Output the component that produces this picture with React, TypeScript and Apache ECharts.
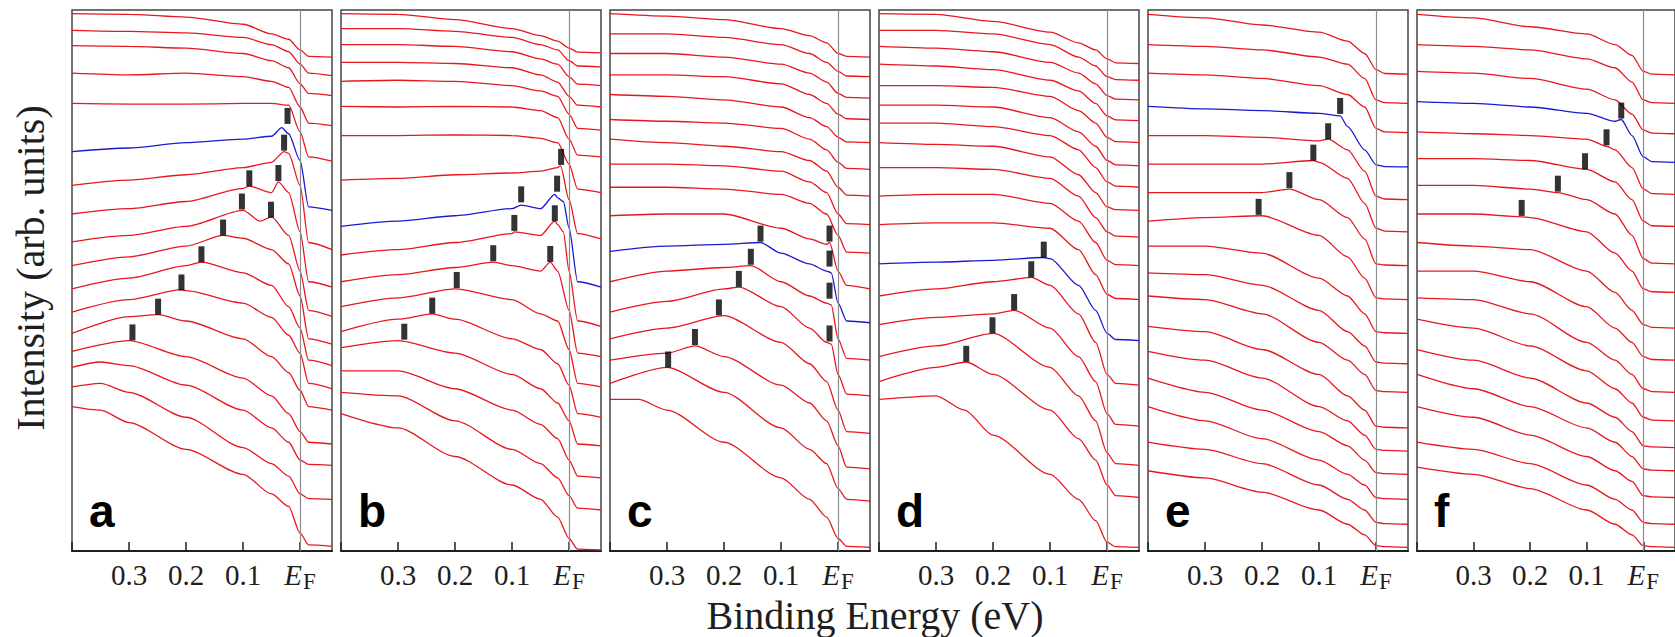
import React, { useEffect, useRef } from 'react';
import * as echarts from 'echarts';

const ENERGY_GRID = [0.4, 0.3, 0.2, 0.1, 0.05, 0.02, 0, -0.015, -0.056];
const TICK_VALUES = [0.4, 0.3, 0.2, 0.1, 0];
const TICK_LABELS = [0.3, 0.2, 0.1, 0];
const PANEL_LETTERS = ['a', 'b', 'c', 'd', 'e', 'f'];
const BLUE_INDEX = [5, 8, 10, 11, 3, 3];

// Intensities (arb. units) of each EDC, top curve first, at ENERGY_GRID
const PANEL_A = [
  [1507, 1505, 1497, 1477, 1450, 1435, 1405, 1387, 1385],
  [1460, 1457, 1453, 1440, 1420, 1400, 1365, 1340, 1333],
  [1417, 1415, 1410, 1395, 1375, 1355, 1310, 1283, 1277],
  [1340, 1335, 1340, 1330, 1317, 1300, 1245, 1200, 1193],
  [1255, 1253, 1253, 1255, 1255, 1250, 1175, 1105, 1093],
  [1120, 1130, 1145, 1155, 1163, 1170, 1095, 965, 955],
  [1025, 1040, 1055, 1075, 1090, 1115, 1025, 865, 845],
  [945, 960, 980, 1017, 1005, 1005, 895, 755, 740],
  [867, 885, 910, 955, 937, 885, 785, 675, 658],
  [800, 825, 855, 877, 845, 805, 715, 595, 580],
  [735, 765, 800, 780, 745, 685, 625, 535, 520],
  [670, 705, 730, 695, 655, 605, 555, 470, 455],
  [610, 657, 645, 595, 545, 500, 450, 405, 395],
  [560, 590, 545, 485, 435, 385, 335, 305, 300],
  [515, 520, 465, 395, 345, 305, 255, 243, 240],
  [460, 445, 375, 290, 245, 210, 160, 147, 145],
  [405, 360, 285, 215, 160, 125, 50, 17, 13],
];
// extra read points: [curve index, energy, intensity]
const PANEL_A_EXTRA = [
  [5, 0.032, 1187], [6, 0.028, 1120], [7, 0.089, 1023], [7, 0.038, 1035],
  [8, 0.07, 925], [9, 0.135, 885], [10, 0.173, 810], [11, 0.208, 733],
  [12, 0.249, 663], [14, 0.35, 530], [15, 0.35, 470], [16, 0.35, 395],
];
const PANEL_A_MARKS = [
  [0.022, 1220], [0.028, 1145], [0.038, 1060], [0.051, 957], [0.089, 1045], [0.102, 980],
  [0.135, 907], [0.173, 832], [0.208, 753], [0.249, 685], [0.294, 613],
];

const PANEL_B = [
  [1507, 1505, 1490, 1465, 1445, 1430, 1410, 1399, 1397],
  [1465, 1465, 1457, 1440, 1420, 1405, 1375, 1360, 1357],
  [1420, 1420, 1415, 1400, 1380, 1365, 1330, 1309, 1305],
  [1370, 1370, 1367, 1355, 1335, 1315, 1275, 1250, 1245],
  [1317, 1320, 1317, 1305, 1290, 1275, 1225, 1185, 1180],
  [1247, 1245, 1247, 1245, 1235, 1215, 1155, 1110, 1105],
  [1165, 1165, 1167, 1165, 1157, 1145, 1085, 1015, 1005],
  [1040, 1045, 1055, 1060, 1065, 1075, 985, 890, 875],
  [910, 925, 940, 960, 960, 990, 905, 755, 740],
  [830, 845, 865, 890, 885, 915, 785, 645, 630],
  [755, 775, 795, 800, 785, 785, 675, 555, 545],
  [685, 710, 735, 705, 665, 645, 565, 470, 460],
  [615, 650, 650, 595, 565, 525, 465, 385, 375],
  [570, 590, 555, 495, 455, 415, 365, 300, 295],
  [505, 505, 455, 395, 355, 315, 255, 210, 205],
  [445, 435, 365, 285, 245, 205, 155, 120, 115],
  [385, 345, 265, 185, 145, 95, 35, 5, 3],
];
const PANEL_B_EXTRA = [
  [7, 0.015, 1080], [8, 0.084, 970], [8, 0.025, 1000], [8, 0.01, 980],
  [9, 0.096, 895], [9, 0.025, 925], [9, 0.01, 895], [10, 0.133, 810], [10, 0.033, 810],
  [12, 0.24, 665],
];
const PANEL_B_MARKS = [
  [0.014, 1105], [0.021, 1030], [0.084, 1000], [0.025, 947], [0.096, 920],
  [0.033, 833], [0.133, 835], [0.197, 760], [0.24, 688], [0.289, 615],
];

const PANEL_C = [
  [1507, 1500, 1490, 1465, 1445, 1425, 1395, 1387, 1385],
  [1450, 1450, 1440, 1420, 1395, 1370, 1345, 1332, 1330],
  [1395, 1395, 1385, 1365, 1340, 1315, 1283, 1272, 1270],
  [1335, 1335, 1330, 1310, 1280, 1255, 1225, 1212, 1210],
  [1280, 1275, 1265, 1245, 1215, 1190, 1160, 1147, 1145],
  [1210, 1205, 1200, 1185, 1155, 1125, 1090, 1073, 1070],
  [1155, 1145, 1135, 1120, 1095, 1065, 1020, 998, 995],
  [1085, 1085, 1080, 1065, 1035, 1005, 945, 918, 915],
  [1020, 1020, 1015, 1000, 975, 945, 885, 838, 835],
  [940, 945, 945, 905, 875, 860, 785, 745, 735],
  [840, 855, 860, 835, 805, 785, 695, 645, 640],
  [755, 785, 795, 755, 715, 695, 595, 540, 535],
  [670, 700, 735, 685, 625, 585, 495, 440, 435],
  [595, 625, 660, 585, 525, 475, 395, 335, 330],
  [535, 555, 545, 465, 415, 365, 295, 235, 230],
  [470, 515, 445, 345, 285, 245, 175, 145, 140],
  [425, 395, 305, 205, 145, 95, 35, 13, 10],
];
const PANEL_C_EXTRA = [
  [9, 0.015, 865], [10, 0.136, 865], [10, 0.012, 780], [11, 0.153, 800], [11, 0.012, 690],
  [12, 0.174, 740], [12, 0.012, 580], [14, 0.251, 575], [16, 0.35, 425],
];
const PANEL_C_MARKS = [
  [0.136, 890], [0.015, 890], [0.153, 825], [0.015, 820], [0.174, 763],
  [0.015, 730], [0.209, 683], [0.015, 610], [0.251, 600], [0.298, 537],
];

const PANEL_D = [
  [1507, 1505, 1485, 1455, 1425, 1405, 1380, 1369, 1367],
  [1460, 1460, 1450, 1420, 1385, 1360, 1330, 1322, 1320],
  [1415, 1410, 1400, 1370, 1340, 1310, 1277, 1267, 1265],
  [1365, 1360, 1350, 1320, 1290, 1255, 1220, 1209, 1207],
  [1305, 1305, 1300, 1275, 1235, 1200, 1160, 1148, 1145],
  [1250, 1250, 1245, 1215, 1175, 1135, 1095, 1083, 1080],
  [1200, 1200, 1190, 1165, 1125, 1075, 1035, 1023, 1020],
  [1145, 1140, 1135, 1105, 1055, 1005, 965, 957, 955],
  [1075, 1075, 1070, 1045, 995, 935, 895, 883, 880],
  [995, 1000, 1000, 975, 925, 865, 815, 803, 800],
  [915, 920, 920, 905, 845, 775, 720, 708, 705],
  [805, 810, 815, 820, 745, 675, 610, 593, 590],
  [715, 735, 755, 745, 665, 585, 495, 470, 465],
  [635, 655, 665, 625, 545, 475, 385, 355, 350],
  [545, 575, 610, 515, 435, 365, 275, 245, 240],
  [475, 515, 495, 395, 315, 255, 185, 155, 150],
  [425, 435, 325, 215, 145, 85, 25, 12, 10],
];
const PANEL_D_EXTRA = [
  [11, 0.111, 823], [12, 0.133, 767], [13, 0.163, 675], [15, 0.247, 530], [16, 0.25, 395],
];
const PANEL_D_MARKS = [
  [0.111, 845], [0.133, 790], [0.163, 698], [0.201, 633], [0.247, 553],
];

const PANEL_E = [
  [1505, 1495, 1475, 1455, 1430, 1395, 1350, 1339, 1337],
  [1420, 1415, 1405, 1385, 1365, 1325, 1265, 1257, 1255],
  [1340, 1335, 1325, 1305, 1280, 1245, 1185, 1175, 1173],
  [1247, 1240, 1235, 1227, 1190, 1125, 1083, 1078, 1077],
  [1165, 1165, 1160, 1150, 1125, 1065, 995, 987, 985],
  [1085, 1085, 1085, 1090, 1045, 975, 905, 897, 895],
  [1005, 1005, 1005, 985, 935, 875, 805, 802, 800],
  [925, 935, 940, 885, 825, 765, 710, 707, 705],
  [855, 855, 835, 765, 715, 665, 615, 612, 610],
  [780, 775, 745, 675, 615, 575, 530, 527, 525],
  [715, 705, 665, 585, 535, 495, 450, 447, 445],
  [630, 615, 565, 495, 435, 395, 350, 347, 345],
  [560, 535, 485, 405, 365, 325, 285, 282, 280],
  [485, 445, 395, 335, 295, 255, 220, 217, 215],
  [405, 365, 315, 255, 215, 185, 150, 147, 145],
  [305, 285, 245, 185, 145, 115, 80, 77, 75],
  [225, 205, 165, 115, 75, 45, 15, 12, 10],
];
const PANEL_E_EXTRA = [
  [3, 0.063, 1220], [4, 0.084, 1155], [5, 0.11, 1095], [6, 0.152, 1015],
];
const PANEL_E_MARKS = [
  [0.063, 1248], [0.084, 1177], [0.11, 1117], [0.152, 1040], [0.206, 965],
];

const PANEL_F = [
  [1505, 1495, 1470, 1450, 1420, 1390, 1345, 1337, 1335],
  [1420, 1415, 1405, 1380, 1355, 1315, 1265, 1257, 1255],
  [1345, 1340, 1325, 1295, 1265, 1225, 1180, 1172, 1170],
  [1260, 1255, 1245, 1227, 1205, 1165, 1105, 1092, 1090],
  [1175, 1170, 1165, 1155, 1125, 1075, 1015, 1002, 1000],
  [1100, 1100, 1095, 1070, 1035, 985, 925, 912, 910],
  [1025, 1025, 1015, 985, 945, 885, 820, 807, 805],
  [945, 945, 935, 895, 835, 785, 735, 727, 725],
  [865, 855, 845, 785, 725, 675, 635, 627, 625],
  [785, 785, 755, 685, 625, 585, 545, 537, 535],
  [710, 705, 665, 585, 535, 495, 455, 447, 445],
  [650, 625, 575, 505, 455, 415, 375, 367, 365],
  [565, 535, 485, 415, 375, 335, 295, 292, 290],
  [495, 455, 405, 345, 305, 265, 230, 227, 225],
  [405, 375, 325, 265, 225, 195, 155, 152, 150],
  [305, 285, 245, 185, 145, 115, 80, 77, 75],
  [235, 215, 175, 115, 75, 45, 15, 12, 10],
];
const PANEL_F_EXTRA = [
  [3, 0.039, 1210], [4, 0.065, 1135], [6, 0.151, 1005], [7, 0.215, 937],
];
const PANEL_F_MARKS = [
  [0.039, 1235], [0.065, 1160], [0.103, 1093], [0.151, 1030], [0.215, 962],
];

const PANELS = [
  { curves: PANEL_A, extra: PANEL_A_EXTRA, marks: PANEL_A_MARKS },
  { curves: PANEL_B, extra: PANEL_B_EXTRA, marks: PANEL_B_MARKS },
  { curves: PANEL_C, extra: PANEL_C_EXTRA, marks: PANEL_C_MARKS },
  { curves: PANEL_D, extra: PANEL_D_EXTRA, marks: PANEL_D_MARKS },
  { curves: PANEL_E, extra: PANEL_E_EXTRA, marks: PANEL_E_MARKS },
  { curves: PANEL_F, extra: PANEL_F_EXTRA, marks: PANEL_F_MARKS },
];

const RED = '#e8161e';
const BLUE = '#1a1ad2';
const INK = '#1e1e1e';
const SERIF = '"Liberation Serif", "Times New Roman", serif';

function buildCurve(values: number[], extra: number[][], idx: number) {
  const pts: number[][] = ENERGY_GRID.map((e, k) => [e, values[k]]);
  extra.filter((x) => x[0] === idx).forEach((x) => pts.push([x[1], x[2]]));
  pts.sort((p, q) => q[0] - p[0]);
  return pts;
}

function buildOption() {
  const grids: any[] = [];
  const xAxes: any[] = [];
  const yAxes: any[] = [];
  const series: any[] = [];
  const graphics: any[] = [];

  PANELS.forEach((panel, i) => {
    const left = 72 + 269 * i;
    grids.push({
      left, top: 10, width: 260, height: 541,
      show: true, borderColor: '#444', borderWidth: 1.5, backgroundColor: 'transparent',
    });
    xAxes.push({
      gridIndex: i, type: 'value', min: -0.056, max: 0.4, inverse: true,
      splitLine: { show: false },
      axisLine: { show: true, onZero: false, lineStyle: { color: INK, width: 2 } },
      axisTick: { show: true, inside: true, length: 9, customValues: TICK_VALUES, lineStyle: { color: INK, width: 1.5 } },
      axisLabel: {
        show: true, customValues: TICK_LABELS, margin: 9,
        fontFamily: SERIF, fontSize: 29, color: INK, lineHeight: 29,
        formatter: (v: number) => (Math.abs(v) < 1e-9 ? '{i|E}{s|F}' : v.toFixed(1)),
        rich: {
          i: { fontFamily: SERIF, fontStyle: 'italic', fontSize: 29, color: INK, lineHeight: 29, verticalAlign: 'top' },
          s: { fontFamily: SERIF, fontSize: 23, color: INK, lineHeight: 22, verticalAlign: 'top', padding: [10, 0, 0, 1] },
        },
      },
    });
    yAxes.push({ gridIndex: i, type: 'value', min: 0, max: 1517, show: false, splitLine: { show: false } });

    panel.curves.forEach((vals, k) => {
      series.push({
        type: 'line', xAxisIndex: i, yAxisIndex: i,
        data: buildCurve(vals, panel.extra, k),
        symbol: 'none', showSymbol: false, silent: true,
        smooth: 0.25, smoothMonotone: 'x',
        lineStyle: { color: k === BLUE_INDEX[i] ? BLUE : RED, width: 1.3 },
        z: 3,
      });
    });

    series.push({
      type: 'scatter', xAxisIndex: i, yAxisIndex: i,
      data: panel.marks,
      symbol: 'rect', symbolSize: [6, 16],
      itemStyle: { color: '#000' }, silent: true, z: 5,
      markLine: {
        silent: true, symbol: 'none', label: { show: false },
        lineStyle: { color: '#8c8c8c', width: 1.2, type: 'solid' },
        data: [{ xAxis: 0 }],
      },
    });

    graphics.push({
      type: 'text', x: left + 17, y: 511,
      style: {
        text: PANEL_LETTERS[i], font: 'bold 46px "Liberation Sans", Arial, sans-serif',
        fill: '#000', align: 'left', verticalAlign: 'middle',
      },
    });
  });

  graphics.push({
    type: 'text', x: 30, y: 268, rotation: Math.PI / 2,
    style: { text: 'Intensity (arb. units)', font: `40px ${SERIF}`, fill: INK, align: 'center', verticalAlign: 'middle' },
  });
  graphics.push({
    type: 'text', x: 875, y: 615,
    style: { text: 'Binding Energy (eV)', font: `40px ${SERIF}`, fill: INK, align: 'center', verticalAlign: 'middle' },
  });

  return {
    animation: false,
    backgroundColor: '#ffffff',
    grid: grids,
    xAxis: xAxes,
    yAxis: yAxes,
    series,
    graphic: graphics,
  };
}

export default function App() {
  const ref = useRef<HTMLDivElement>(null);
  useEffect(() => {
    document.body.style.margin = '0';
    if (!ref.current) return;
    const chart = echarts.init(ref.current, undefined, { renderer: 'svg' });
    chart.setOption(buildOption() as any);
    return () => chart.dispose();
  }, []);
  return (
    <div
      ref={ref}
      style={{ position: 'absolute', left: 0, top: 0, width: 1675, height: 637, background: '#fff' }}
    />
  );
}
